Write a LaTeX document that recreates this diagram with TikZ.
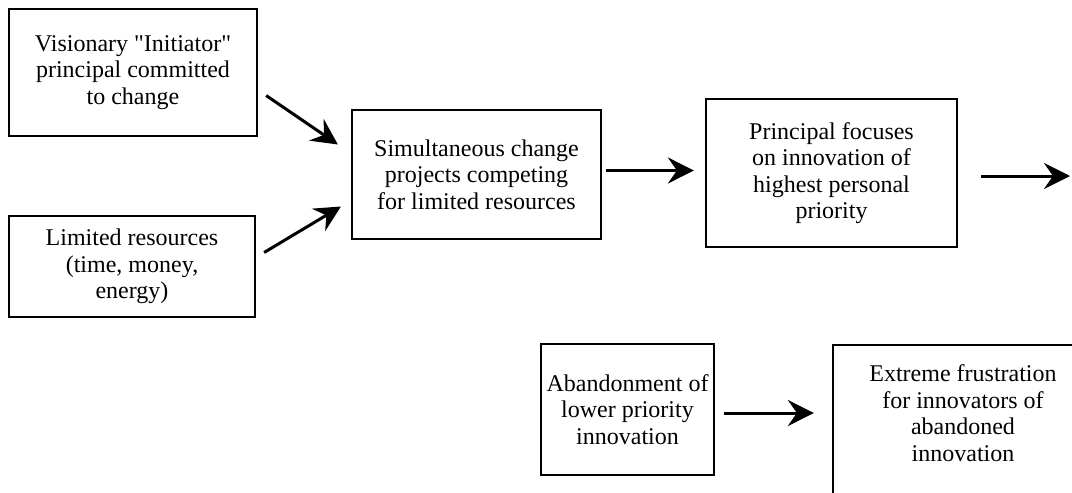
\documentclass[tikz,border=0pt]{standalone}
\usepackage{fontspec}
\setmainfont{Liberation Serif}
\usetikzlibrary{arrows.meta,calc}
% straight double quote, bypassing the TeX ligature mapping
\newcommand{\dq}{\XeTeXglyph\XeTeXglyphindex "quotedbl" }
\begin{document}
\begin{tikzpicture}[x=1pt,y=-1pt,
  box/.style={draw, line width=2.2pt, align=center, inner sep=0pt,
    font=\fontsize{24}{26.5}\selectfont},
  flow/.style={line width=3pt,
    -{Stealth[length=26pt,width=26pt,inset=9pt]}}]
\useasboundingbox (0,0) rectangle (1072,493);
\clip (0,0) rectangle (1072,493);

% upper row
\node[box, minimum width=248pt, minimum height=127pt] (A) at (133,72.5)
  {Visionary \dq Initiator\dq\\principal committed\\to change};
\node[box, minimum width=246pt, minimum height=101pt] (B) at (132,266.5)
  {Limited resources\\(time, money,\\energy)};
\node[box, minimum width=249pt, minimum height=129pt] (C) at (476.5,174.5)
  {Simultaneous change\\projects competing\\for limited resources};
\node[box, minimum width=251pt, minimum height=148pt] (D) at (831.5,173)
  {Principal focuses\\on innovation of\\highest personal\\priority};

% lower row
\node[box, minimum width=173pt, minimum height=131pt] (E) at (627.5,409.5)
  {Abandonment of\\lower priority\\innovation};
\node[box, draw=none, minimum width=258pt, minimum height=134pt] (F) at (963,413)
  {Extreme frustration\\for innovators of\\abandoned\\innovation};
\draw[line width=2.2pt] ($(F.south west)+(0,40)$) -- (F.north west)
  -- ($(F.north east)+(20,0)$);

% connectors
\coordinate (out) at (1070,176);
\draw[flow] ($(A.east)+(8,23)$) -- ($(C.west)+(-13,-30)$);
\draw[flow] ($(B.east)+(8,-14)$) -- ($(C.west)+(-10,32)$);
\draw[flow] ($(C.east)+(4,-4)$) -- ($(D.west |- C.east)+(-11,-4)$);
\draw[flow] ($(D.east)+(23,3)$) -- (out);
\draw[flow] ($(E.east)+(9,3.5)$) -- ($(F.west |- E.east)+(-19,3.5)$);
\end{tikzpicture}
\end{document}
